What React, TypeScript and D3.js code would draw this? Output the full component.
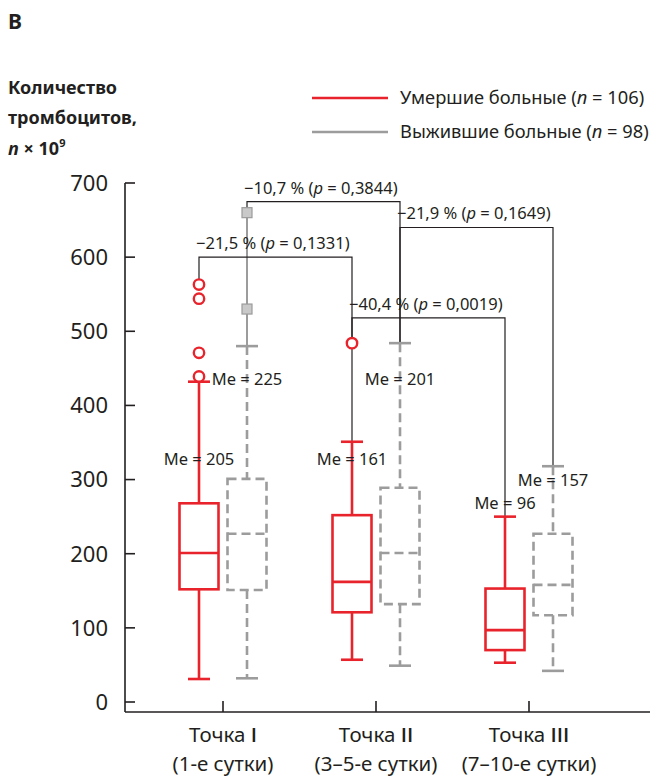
import React from 'react';
import * as d3 from 'd3';

const categories = ['Точка I', 'Точка II', 'Точка III'];
const periods = ['(1-е сутки)', '(3–5-е сутки)', '(7–10-е сутки)'];
const yTicks = [0, 100, 200, 300, 400, 500, 600, 700];

// умершие больные (n = 106)
const deadLow = [31, 57, 53];
const deadQ1 = [152, 121, 70];
const deadMedian = [201, 162, 97];
const deadQ3 = [268, 252, 153];
const deadHigh = [432, 351, 250];
const deadOutliers = [[439, 471, 544, 563], [484], []];
const deadMe = [205, 161, 96];

// выжившие больные (n = 98)
const aliveLow = [32, 49, 42];
const aliveQ1 = [151, 132, 117];
const aliveMedian = [227, 201, 158];
const aliveQ3 = [301, 289, 227];
const aliveHigh = [480, 484, 318];
const aliveOutliers = [[530, 660], [], []];
const aliveMe = [225, 201, 157];

// differences between points
const diffPct = ['−10,7', '−21,9', '−21,5', '−40,4'];
const diffP = ['0,3844', '0,1649', '0,1331', '0,0019'];
const diffFrom = [[0, 'alive'], [1, 'alive'], [0, 'dead'], [1, 'dead']];
const diffTo = [[1, 'alive'], [2, 'alive'], [1, 'dead'], [2, 'dead']];
const diffLevel = [675, 640, 600, 518];

// where the "Me = ..." labels sit (value units)
const deadMeAt = [327, 327, 268];
const aliveMeAt = [436, 436, 299];

const RED = '#e8232b';
const GREY = '#9c9c9c';
const INK = '#231f20';
const FONT = '"Noto Sans", "DejaVu Sans", sans-serif';

const x = d3.scalePoint<string>().domain(categories).range([223, 529]);
const y = d3.scaleLinear().domain([0, 700]).range([702, 183]);
const shift = { dead: -24, alive: 24 };
const half = 19.5;
const cap = 11;

const series = {
  dead: { low: deadLow, q1: deadQ1, med: deadMedian, q3: deadQ3, high: deadHigh, out: deadOutliers, me: deadMe, meAt: deadMeAt },
  alive: { low: aliveLow, q1: aliveQ1, med: aliveMedian, q3: aliveQ3, high: aliveHigh, out: aliveOutliers, me: aliveMe, meAt: aliveMeAt },
};

const cx = (i: number, s: 'dead' | 'alive') => (x(categories[i]) as number) + shift[s];
const topOf = (i: number, s: 'dead' | 'alive') => {
  const d = series[s];
  return d3.max([d.high[i], ...d.out[i]]) as number;
};

function Box({ i, s }: { i: number; s: 'dead' | 'alive' }) {
  const d = series[s];
  const c = cx(i, s);
  const col = s === 'dead' ? RED : GREY;
  const dash = s === 'dead' ? undefined : '9 5';
  const common = { stroke: col, strokeWidth: 2.6, fill: 'none', strokeDasharray: dash };
  return (
    <g>
      <line x1={c} x2={c} y1={y(d.high[i])} y2={y(d.q3[i])} {...common} />
      <line x1={c} x2={c} y1={y(d.q1[i])} y2={y(d.low[i])} {...common} />
      <line x1={c - cap} x2={c + cap} y1={y(d.high[i])} y2={y(d.high[i])} {...common} strokeDasharray={undefined} />
      <line x1={c - cap} x2={c + cap} y1={y(d.low[i])} y2={y(d.low[i])} {...common} strokeDasharray={undefined} />
      <rect x={c - half} width={half * 2} y={y(d.q3[i])} height={y(d.q1[i]) - y(d.q3[i])} {...common} />
      <line x1={c - half} x2={c + half} y1={y(d.med[i])} y2={y(d.med[i])} {...common} />
    </g>
  );
}

export default function App() {
  const pairs: [number, 'dead' | 'alive'][] = [];
  categories.forEach((_, i) => { pairs.push([i, 'dead']); pairs.push([i, 'alive']); });
  return (
    <svg width={656} height={780} style={{ position: 'absolute', left: 0, top: 0, fontFamily: FONT }} fontFamily={FONT}>
      <rect width={656} height={780} fill="#fff" />
      <text x={8} y={29} fontSize={21} fontWeight={700} fill={INK}>В</text>
      <g fontSize={18} fontWeight={700} fill={INK}>
        <text x={8} y={94}>Количество</text>
        <text x={8} y={124}>тромбоцитов,</text>
        <text x={8} y={155}>
          <tspan fontStyle="italic">n</tspan> × 10<tspan fontSize={11} dy={-8}>9</tspan>
        </text>
      </g>

      {/* legend */}
      <line x1={312} x2={388} y1={98} y2={98} stroke={RED} strokeWidth={2.6} />
      <line x1={312} x2={388} y1={132} y2={132} stroke={GREY} strokeWidth={2.6} />
      <g fontSize={18.3} fill={INK}>
        <text x={400} y={104}>Умершие больные (<tspan fontStyle="italic">n</tspan> = 106)</text>
        <text x={400} y={138}>Выжившие больные (<tspan fontStyle="italic">n</tspan> = 98)</text>
      </g>

      {/* axes */}
      <line x1={125} x2={125} y1={y(700)} y2={712} stroke={INK} strokeWidth={1.6} />
      <line x1={125} x2={650} y1={712} y2={712} stroke={INK} strokeWidth={1.6} />
      {yTicks.map(t => (
        <g key={t}>
          <line x1={125} x2={135} y1={y(t)} y2={y(t)} stroke={INK} strokeWidth={1.6} />
          <text x={108} y={y(t)} dy="0.36em" textAnchor="end" fontSize={22} fill={INK}>{t}</text>
        </g>
      ))}
      {categories.map((c, i) => {
        const [word, num] = c.split(' ');
        return (
          <g key={c}>
            <line x1={x(c)} x2={x(c)} y1={712} y2={701} stroke={INK} strokeWidth={1.6} />
            <text x={x(c)} y={742} textAnchor="middle" fontSize={20.5} fill={INK}>
              {word} <tspan fontWeight={600} fontFamily='"Open Sans", sans-serif'>{num}</tspan>
            </text>
            <text x={x(c)} y={771} textAnchor="middle" fontSize={20.5} fill={INK}>{periods[i]}</text>
          </g>
        );
      })}

      {/* connectors above whiskers */}
      <line x1={cx(0, 'alive')} x2={cx(0, 'alive')} y1={y(topOf(0, 'alive'))} y2={y(aliveHigh[0])} stroke={GREY} strokeWidth={2} />
      <line x1={cx(1, 'dead')} x2={cx(1, 'dead')} y1={y(topOf(1, 'dead'))} y2={y(deadHigh[1])} stroke={INK} strokeWidth={1.2} />

      {/* brackets */}
      {diffPct.map((pct, k) => {
        const [fi, fs] = diffFrom[k] as [number, 'dead' | 'alive'];
        const [ti, ts] = diffTo[k] as [number, 'dead' | 'alive'];
        const x1 = cx(fi, fs);
        const x2 = cx(ti, ts);
        const ly = y(diffLevel[k]);
        const path = `M${x1},${y(topOf(fi, fs))}V${ly}H${x2}V${y(topOf(ti, ts))}`;
        return (
          <g key={pct}>
            <path d={path} fill="none" stroke={INK} strokeWidth={1.2} />
            <text x={x1 - 3} y={ly - 8} fontSize={16.5} fill={INK}>
              {pct} % (<tspan fontStyle="italic">p</tspan> = {diffP[k]})
            </text>
          </g>
        );
      })}

      {pairs.map(([i, s]) => <Box key={`${s}${i}`} i={i} s={s} />)}

      {/* outliers */}
      {deadOutliers.map((os, i) => os.map(v => (
        <circle key={`d${i}${v}`} cx={cx(i, 'dead')} cy={y(v)} r={5.2} fill="#fff" stroke={RED} strokeWidth={2.4} />
      )))}
      {aliveOutliers.map((os, i) => os.map(v => (
        <rect key={`a${i}${v}`} x={cx(i, 'alive') - 5} y={y(v) - 5} width={10} height={10} fill="#c9c9c9" stroke={GREY} strokeWidth={1.2} />
      )))}

      {/* medians */}
      {pairs.map(([i, s]) => (
        <text key={`me${s}${i}`} x={cx(i, s)} y={y(series[s].meAt[i])} dy="0.35em" textAnchor="middle" fontSize={16.5} fill={INK}>
          Me = {series[s].me[i]}
        </text>
      ))}
    </svg>
  );
}
